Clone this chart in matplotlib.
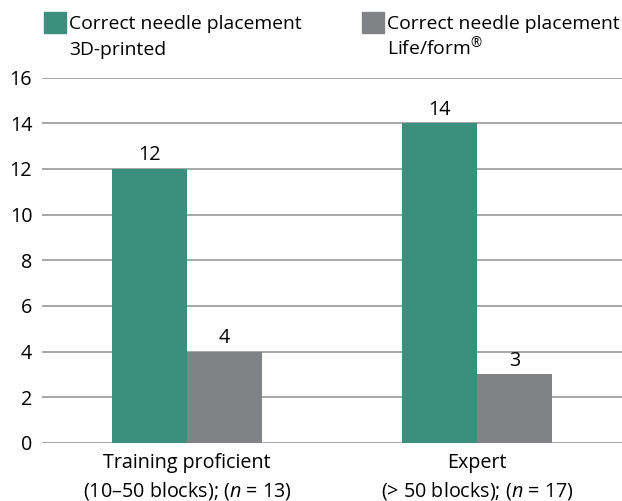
import matplotlib
matplotlib.use("Agg")
import matplotlib.pyplot as plt
import numpy as np
from matplotlib.patches import Rectangle

plt.rcParams["font.family"] = ["Open Sans", "DejaVu Sans"]
plt.rcParams["mathtext.fontset"] = "custom"
plt.rcParams["mathtext.rm"] = "Open Sans"
plt.rcParams["mathtext.it"] = "Open Sans:italic"

groups = ["Training proficient\n(10–50 blocks); ($\\mathit{n}$ = 13)",
          "Expert\n(> 50 blocks); ($\\mathit{n}$ = 17)"]
printed_3d = [12, 14]
lifeform = [4, 3]
series_names = [("Correct needle placement", "3D-printed"),
                ("Correct needle placement", "Life/form$^{\\circledR}$")]
colors = ["#3d8f7d", "#818286"]
yticks = [0, 2, 4, 6, 8, 10, 12, 14, 16]

FS = 14.2
LEG_FS = 13.9

fig = plt.figure(figsize=(6.22, 5.01), dpi=100)
ax = fig.add_axes([0.0675, 0.116, 0.9325, 0.729])

x = np.arange(len(groups))
w = 0.257
b1 = ax.bar(x - w / 2, printed_3d, w, color=colors[0], zorder=3)
b2 = ax.bar(x + w / 2, lifeform, w, color=colors[1], zorder=3)
for bars in (b1, b2):
    for bar in bars:
        ax.annotate(f"{int(bar.get_height())}",
                    (bar.get_x() + bar.get_width() / 2, bar.get_height()),
                    xytext=(0, 2.5), textcoords="offset points",
                    ha="center", va="bottom", fontsize=FS)

ax.set_xlim(-0.5, 1.5)
ax.set_ylim(0, 16)
ax.set_yticks(yticks)
ax.set_xticks(x)
ax.set_xticklabels(groups, fontsize=FS, linespacing=1.38)
ax.tick_params(axis="y", length=0, pad=7, labelsize=FS)
ax.tick_params(axis="x", length=0, pad=7.5)
ax.yaxis.grid(True, color="#a0a0a0", linewidth=1.3, zorder=0)
for s in ax.spines.values():
    s.set_visible(False)

# legend drawn by hand: swatch next to first line, each line on its own baseline
for i, ((line1, line2), c) in enumerate(zip(series_names, colors)):
    x0 = [0.0707, 0.582][i]
    fig.patches.append(Rectangle((x0, 0.934), 0.035, 0.042,
                                 transform=fig.transFigure, color=c))
    fig.text(x0 + 0.0405, 0.942, line1, fontsize=LEG_FS, va="baseline")
    fig.text(x0 + 0.0405, 0.890, line2, fontsize=LEG_FS, va="baseline")

fig.savefig("out.png", dpi=100)
